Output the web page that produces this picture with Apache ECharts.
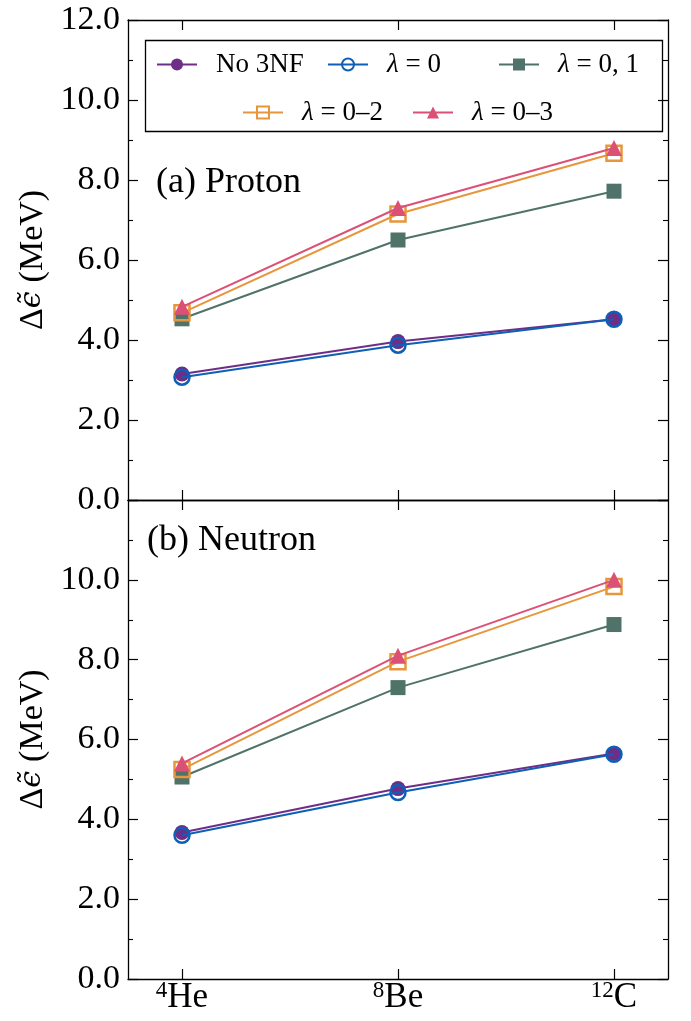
<!DOCTYPE html>
<html>
<head>
<meta charset="utf-8">
<script src="https://cdn.jsdelivr.net/npm/echarts@6/dist/echarts.min.js"></script>
<style>html,body{margin:0;padding:0;background:#fff}#c{width:691px;height:1021px}</style>
</head>
<body>
<div id="c"></div>
<script>
// ---- data ----
const categories = ['4He', '8Be', '12C'];
const catSup = ['4', '8', '12'];
const catElem = ['He', 'Be', 'C'];
const seriesNames = ['No 3NF', 'λ = 0', 'λ = 0, 1', 'λ = 0–2', 'λ = 0–3'];

const protonNo3NF = [3.15, 3.96, 4.52];
const protonL0    = [3.07, 3.87, 4.52];
const protonL01   = [4.53, 6.50, 7.72];
const protonL02   = [4.68, 7.15, 8.67];
const protonL03   = [4.83, 7.30, 8.80];

const neutronNo3NF = [3.67, 4.77, 5.65];
const neutronL0    = [3.60, 4.67, 5.63];
const neutronL01   = [5.06, 7.30, 8.88];
const neutronL02   = [5.25, 7.95, 9.83];
const neutronL03   = [5.40, 8.10, 10.00];

const yTicks = [0, 2, 4, 6, 8, 10, 12];

// ---- styles ----
const FF = 'Liberation Serif';
const colors = ['#6e2e87', '#0e5fb5', '#4f7369', '#e8963c', '#dc5075'];
const markers = [
  {symbol: 'circle', size: 15, fill: true},
  {symbol: 'circle', size: 15, fill: false},
  {symbol: 'rect', size: 15, fill: true},
  {symbol: 'rect', size: 15, fill: false},
  {symbol: 'triangle', size: 16, fill: true}
];

function mkSeries(name, idx, vals, g) {
  const m = markers[idx];
  return {
    name: name, type: 'line', xAxisIndex: g * 2, yAxisIndex: g * 2,
    data: vals.map((v, i) => [i, v]),
    color: colors[idx],
    symbol: m.symbol, symbolSize: m.size,
    lineStyle: {color: colors[idx], width: 2},
    itemStyle: m.fill ? {color: colors[idx], borderColor: colors[idx], borderWidth: 0}
                      : {color: 'rgba(255,255,255,0)', borderColor: colors[idx], borderWidth: 2.5},
    emphasis: {disabled: true},
    animation: false,
    z: 2 + idx
  };
}

const lineCol = {color: '#000', width: 1.3};
function yAxes(g) {
  const base = {
    gridIndex: g, type: 'value', min: 0, max: 12, interval: 2,
    axisLine: {show: true, onZero: false, lineStyle: lineCol},
    axisTick: {show: true, inside: true, length: 10, lineStyle: {color: '#000', width: 1.2}},
    minorTick: {show: true, splitNumber: 2, length: 5, lineStyle: {color: '#000', width: 1.1}},
    splitLine: {show: false}
  };
  return [
    Object.assign({}, base, {
      position: 'left',
      axisLabel: {show: true, formatter: v => v.toFixed(1), fontFamily: FF, fontSize: 34, color: '#000', margin: 8,
                  showMaxLabel: g === 0},
      name: '{d|Δ}{e|ϵ̃}{s|}{d|(MeV)}', nameLocation: 'middle', nameRotate: 90, nameGap: 72,
      nameTextStyle: {rich: {d: {fontFamily: FF, fontSize: 34, color: '#000'},
                             e: {fontFamily: 'DejaVu Serif', fontSize: 30, fontStyle: 'italic', color: '#000'},
                             s: {width: 9}}}
    }),
    Object.assign({}, base, {position: 'right', axisLabel: {show: false}})
  ];
}
function xAxes(g) {
  const base = {
    gridIndex: g, type: 'value', min: -0.25, max: 2.25,
    axisLine: {show: true, onZero: false, lineStyle: lineCol},
    axisTick: {show: true, inside: true, length: 10, customValues: [0, 1, 2], lineStyle: {color: '#000', width: 1.2}},
    splitLine: {show: false}
  };
  return [
    Object.assign({}, base, {
      position: 'bottom',
      axisLabel: g === 1 ? {
        show: true, customValues: [0, 1, 2], margin: 0,
        formatter: v => '{s|' + catSup[v] + '}{n|' + catElem[v] + '}',
        rich: {s: {fontFamily: FF, fontSize: 23, color: '#000', verticalAlign: 'top', padding: [0, 0, 14, 0]},
               n: {fontFamily: FF, fontSize: 35, color: '#000'}}
      } : {show: false}
    }),
    Object.assign({}, base, {position: 'top', axisLabel: {show: false}})
  ];
}

const legendLabel = {
  'No 3NF': 'No 3NF',
  'λ = 0': '{i|λ} = 0',
  'λ = 0, 1': '{i|λ} = 0, 1',
  'λ = 0–2': '{i|λ} = 0–2',
  'λ = 0–3': '{i|λ} = 0–3'
};
function mkLegend(name, left, top) {
  return {
    data: [name], left: left, top: top, orient: 'horizontal', padding: 0,
    itemWidth: 40, itemHeight: 15, itemGap: 0,
    selectedMode: false,
    formatter: n => legendLabel[n],
    textStyle: {fontFamily: FF, fontSize: 27, color: '#000', padding: [0, 0, 0, 14],
                rich: {i: {fontFamily: FF, fontSize: 27, fontStyle: 'italic', color: '#000'}}}
  };
}

const series = [];
[[protonNo3NF, protonL0, protonL01, protonL02, protonL03],
 [neutronNo3NF, neutronL0, neutronL01, neutronL02, neutronL03]].forEach((arrs, g) => {
  arrs.forEach((vals, k) => series.push(mkSeries(seriesNames[k], k, vals, g)));
});

const legendPos = [[156, 51], [327, 51], [498, 51], [242, 99], [412, 99]];

const option = {
  backgroundColor: '#fff',
  animation: false,
  grid: [
    {left: 128, right: 23, top: 20, height: 480},
    {left: 128, right: 23, top: 500, height: 479}
  ],
  xAxis: xAxes(0).concat(xAxes(1)),
  yAxis: yAxes(0).concat(yAxes(1)),
  legend: seriesNames.map((n, i) => mkLegend(n, legendPos[i][0], legendPos[i][1])),
  title: [
    {text: '(a) Proton', left: 156, top: 165, padding: 0, textStyle: {fontFamily: FF, fontSize: 36, fontWeight: 'normal', color: '#000'}},
    {text: '(b) Neutron', left: 147, top: 523, padding: 0, textStyle: {fontFamily: FF, fontSize: 36, fontWeight: 'normal', color: '#000'}}
  ],
  graphic: [
    {type: 'rect', shape: {x: 145.5, y: 40.5, width: 517, height: 91}, style: {fill: 'none', stroke: '#000', lineWidth: 1.3}, z: 100}
  ],
  series: series
};

const chart = echarts.init(document.getElementById('c'), null, {renderer: 'canvas'});
chart.setOption(option);
</script>
</body>
</html>
